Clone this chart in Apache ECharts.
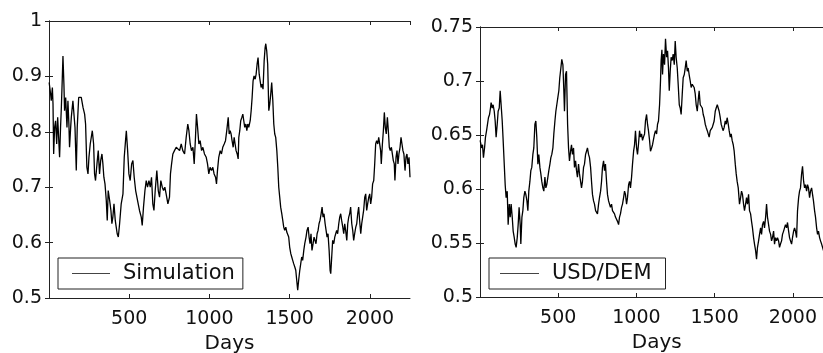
<!DOCTYPE html>
<html>
<head>
<meta charset="utf-8">
<script src="https://cdn.jsdelivr.net/npm/echarts@6/dist/echarts.min.js"></script>
<style>
  html, body { margin: 0; padding: 0; background: #fff; }
  #chart { width: 823px; height: 353px; }
</style>
</head>
<body>
<div id="chart"></div>
<script>
// Simulated series (left panel): day index and value
const simDays = [1,10,14,21,25,29,35,41,48,54,60,66,72,77,83,87,93,97,104,112,118,124,128,135,139,145,149,155,162,170,176,185,191,201,212,222,228,236,243,249,257,270,278,284,290,299,307,315,322,330,336,342,349,357,363,369,378,386,392,398,405,413,419,425,432,440,450,461,469,477,482,490,498,506,515,523,531,540,
  550,556,564,575,581,589,598,606,614,623,631,639,647,654,662,672,681,689,697,706,714,722,730,741,751,757,764,772,782,793,803,814,824,834,845,855,865,872,880,888,897,905,913,919,926,934,942,951,959,969,980,988,996,1004,1013,1021,1029,1038,1044,1050,1058,1067,1075,1083,1092,1100,1108,1117,1123,
  1129,1135,1141,1148,1154,1160,1166,1173,1179,1183,1189,1195,1202,1208,1214,1220,1227,1233,1239,1245,1254,1260,1266,1272,1278,1285,1291,1297,1303,1310,1316,1322,1328,1334,1341,1347,1351,1357,1363,1370,1376,1382,1388,1395,1401,1407,1413,1420,1426,1432,1438,1444,1451,1457,1463,1469,1476,1482,1488,1494,1500,1507,1513,1519,1525,1532,1538,1544,1550,1556,1563,1569,1575,1581,1588,1594,1602,1608,1615,1621,1627,1633,1639,1646,1652,1658,1664,1671,1677,1683,
  1689,1696,1702,1708,1714,1721,1727,1733,1739,1746,1752,1756,1762,1768,1775,1781,1787,1793,1799,1806,1812,1818,1824,1831,1837,1843,1849,1856,1862,1868,1874,1880,1887,1893,1899,1905,1912,1918,1924,1930,1936,1943,1949,1955,1961,1968,1974,1980,1986,1993,1999,2005,2011,2017,2024,2030,2036,2042,2049,2055,2061,2067,2071,2078,2084,2090,2096,2102,2109,2115,2121,2127,2134,2140,2146,2152,2156,2163,2169,2175,2181,2188,2194,2200,2206,2212,2219,2225,2231,2237,2244,2250];
const simValues = [0.889,0.868,0.856,0.880,0.850,0.760,0.808,0.820,0.778,0.826,0.790,0.754,0.808,0.844,0.898,0.937,0.886,0.838,0.862,0.808,0.856,0.814,0.772,0.808,0.826,0.844,0.856,0.859,0.808,0.730,0.808,0.862,0.865,0.862,0.844,0.832,0.814,0.736,0.724,0.754,0.778,0.802,0.778,0.724,0.712,0.742,0.766,0.724,0.748,0.760,0.742,0.718,0.706,0.676,0.640,0.694,0.676,0.658,0.634,0.646,0.670,0.640,0.628,0.616,0.610,0.634,0.670,0.688,0.754,0.784,0.802,0.766,0.724,0.712,0.742,0.748,0.718,0.694,
  0.694,0.670,0.658,0.646,0.631,0.664,0.694,0.712,0.700,0.712,0.700,0.718,0.670,0.658,0.694,0.730,0.694,0.682,0.712,0.700,0.694,0.700,0.688,0.670,0.682,0.724,0.742,0.760,0.766,0.772,0.775,0.766,0.778,0.766,0.760,0.790,0.814,0.802,0.778,0.766,0.772,0.742,0.790,0.832,0.808,0.778,0.784,0.766,0.772,0.760,0.754,0.742,0.724,0.736,0.730,0.736,0.724,0.718,0.706,0.730,0.754,0.766,0.760,0.772,0.778,0.784,0.802,0.826,0.796,
  0.802,0.796,0.784,0.772,0.790,0.778,0.766,0.760,0.751,0.790,0.802,0.820,0.826,0.832,0.820,0.808,0.814,0.802,0.814,0.808,0.820,0.838,0.862,0.892,0.901,0.895,0.904,0.922,0.934,0.904,0.892,0.880,0.886,0.877,0.928,0.952,0.959,0.946,0.922,0.838,0.850,0.868,0.889,0.856,0.814,0.796,0.790,0.766,0.736,0.700,0.682,0.664,0.652,0.640,0.628,0.622,0.628,0.619,0.616,0.610,0.592,0.580,0.574,0.568,0.562,0.556,0.550,0.532,0.514,0.532,0.550,0.562,0.574,0.568,0.586,0.598,0.610,0.622,0.628,0.610,0.598,0.616,0.586,0.598,0.610,0.604,0.598,0.616,0.622,0.634,
  0.640,0.652,0.664,0.646,0.652,0.634,0.622,0.610,0.616,0.586,0.550,0.544,0.574,0.604,0.598,0.610,0.616,0.622,0.616,0.634,0.646,0.652,0.640,0.628,0.616,0.634,0.622,0.604,0.634,0.646,0.652,0.664,0.634,0.622,0.604,0.616,0.628,0.634,0.652,0.664,0.640,0.616,0.634,0.646,0.658,0.682,0.688,0.658,0.670,0.682,0.688,0.670,0.682,0.706,0.712,0.742,0.778,0.784,0.778,0.790,0.790,0.766,0.742,0.778,0.802,0.835,0.808,0.796,0.826,0.802,0.772,0.766,0.772,0.760,0.748,0.742,0.712,0.754,0.766,0.742,0.760,0.772,0.790,0.778,0.766,0.760,0.730,0.754,0.760,0.742,0.754,0.718];

// USD/DEM exchange rate (right panel): day index and rate
const fxDays = [1,10,16,22,29,35,42,48,54,61,67,71,78,84,91,97,103,110,116,123,129,135,142,148,155,161,167,174,180,187,193,199,206,212,219,225,231,238,244,250,257,261,268,274,280,287,293,300,306,312,319,325,331,338,344,351,357,363,370,376,383,389,395,402,408,415,421,427,434,440,447,453,459,466,472,479,485,491,498,504,510,517,523,530,536,540,547,553,
  560,566,572,579,585,591,598,604,611,617,623,630,636,643,649,655,662,668,675,681,687,694,700,707,713,719,726,732,739,745,751,758,764,771,777,783,790,796,802,809,815,822,828,834,841,847,854,860,866,873,879,886,892,898,905,911,918,924,930,937,943,950,956,962,969,975,982,988,994,1001,1007,1013,1020,1026,1033,1039,1045,1052,1058,1065,1071,1077,1084,1090,1097,1103,
  1109,1116,1122,1129,1135,1141,1148,1154,1158,1163,1167,1173,1180,1186,1193,1199,1205,1210,1216,1222,1229,1235,1242,1248,1254,1261,1267,1274,1280,1286,1293,1299,1306,1312,1318,1325,1331,1337,1344,1350,1357,1363,1369,1376,1382,1389,1395,1401,1408,1414,1421,1427,1433,1440,1446,1453,1459,1465,1472,1478,1485,1491,1497,1504,1510,1517,1523,1529,1536,1542,1548,1555,1561,1568,1574,1580,1587,1593,1600,1606,1612,1619,1625,1632,1638,1644,1651,
  1659,1666,1672,1678,1685,1691,1698,1704,1710,1717,1723,1730,1736,1742,1749,1755,1762,1768,1774,1781,1787,1794,1800,1806,1813,1819,1826,1832,1838,1845,1851,1858,1864,1870,1877,1883,1889,1896,1902,1909,1915,1921,1928,1934,1941,1947,1953,1960,1966,1973,1979,1985,1992,1998,2005,2011,2017,2024,2030,2037,2043,2049,2056,2062,2069,2075,2081,2088,2094,2100,2107,2113,2120,2126,2132,2139,2145,2152,2158,2164,2171,2177,2184,2190,2196,2202];
const fxValues = [0.645,0.638,0.641,0.629,0.638,0.648,0.654,0.660,0.666,0.669,0.675,0.680,0.675,0.678,0.672,0.663,0.648,0.660,0.672,0.675,0.691,0.678,0.663,0.645,0.623,0.604,0.592,0.598,0.567,0.586,0.574,0.586,0.574,0.561,0.555,0.549,0.546,0.555,0.567,0.583,0.567,0.549,0.574,0.580,0.592,0.598,0.595,0.589,0.580,0.598,0.607,0.617,0.620,0.632,0.638,0.660,0.663,0.648,0.623,0.632,0.620,0.614,0.607,0.601,0.598,0.611,0.601,0.604,0.611,0.617,0.623,0.629,0.632,0.638,0.651,0.663,0.672,0.678,0.685,0.691,0.703,0.712,0.720,0.715,0.691,0.672,0.706,0.709,
  0.660,0.638,0.626,0.635,0.641,0.632,0.638,0.620,0.626,0.617,0.611,0.623,0.614,0.607,0.601,0.607,0.620,0.623,0.632,0.635,0.638,0.632,0.629,0.620,0.607,0.595,0.589,0.586,0.580,0.580,0.577,0.586,0.592,0.598,0.607,0.620,0.626,0.617,0.623,0.607,0.595,0.589,0.586,0.583,0.586,0.580,0.580,0.577,0.574,0.574,0.570,0.567,0.574,0.577,0.583,0.586,0.592,0.598,0.595,0.586,0.592,0.604,0.607,0.601,0.611,0.623,0.635,0.641,0.654,0.638,0.632,0.641,0.654,0.648,0.651,0.645,0.648,0.651,0.663,0.669,0.660,0.654,0.645,0.635,0.638,0.641,
  0.641,0.651,0.654,0.651,0.660,0.663,0.678,0.700,0.719,0.729,0.706,0.725,0.715,0.739,0.722,0.728,0.712,0.691,0.709,0.722,0.719,0.725,0.715,0.737,0.722,0.712,0.697,0.678,0.675,0.669,0.688,0.703,0.706,0.712,0.719,0.709,0.712,0.706,0.700,0.694,0.697,0.697,0.694,0.688,0.678,0.672,0.682,0.691,0.678,0.678,0.675,0.669,0.666,0.660,0.657,0.654,0.651,0.648,0.654,0.654,0.657,0.660,0.663,0.672,0.675,0.678,0.675,0.672,0.666,0.660,0.657,0.654,0.657,0.663,0.660,0.666,0.660,0.654,0.648,0.651,0.645,0.641,0.635,0.623,0.614,0.607,0.601,
  0.586,0.592,0.598,0.595,0.586,0.580,0.586,0.592,0.586,0.595,0.580,0.577,0.570,0.564,0.555,0.549,0.543,0.535,0.546,0.552,0.558,0.564,0.558,0.567,0.570,0.564,0.574,0.586,0.574,0.567,0.561,0.558,0.552,0.555,0.561,0.549,0.555,0.552,0.555,0.552,0.546,0.549,0.552,0.558,0.561,0.564,0.567,0.564,0.569,0.561,0.555,0.552,0.549,0.555,0.561,0.564,0.561,0.555,0.580,0.592,0.598,0.601,0.614,0.621,0.607,0.601,0.604,0.598,0.604,0.601,0.592,0.598,0.601,0.595,0.589,0.580,0.574,0.564,0.558,0.561,0.555,0.552,0.549,0.546,0.543,0.541];

// Axis ranges and tick spacing
const simX = { min: 0, max: 2250, step: 500 };
const simY = { min: 0.5, max: 1, step: 0.1 };
const fxX = { min: 0, max: 2260, step: 500 };
const fxY = { min: 0.5, max: 0.75, step: 0.05 };
const xTitle = 'Days';
const simName = 'Simulation';
const fxName = 'USD/DEM';

const FONT = 'DejaVu Sans';
const INK = '#222';

function pairs(xs, ys) { return xs.map((d, i) => [d, ys[i]]); }

function bottomAxis(grid, r) {
  return {
    type: 'value', gridIndex: grid, position: 'bottom',
    min: r.min, max: r.max, interval: r.step,
    name: xTitle, nameLocation: 'middle', nameGap: 32,
    nameTextStyle: { fontFamily: FONT, fontSize: 20, color: '#111' },
    axisLine: { show: true, lineStyle: { color: INK, width: 1 } },
    axisTick: { show: true, inside: true, length: 4, lineStyle: { color: INK } },
    axisLabel: { show: true, margin: 12, fontFamily: FONT, fontSize: 19, color: '#111',
      showMinLabel: false, showMaxLabel: false,
      formatter: v => (v % r.step === 0 && v > 0) ? String(v) : '' },
    splitLine: { show: false }
  };
}
function topAxis(grid, r) {
  return {
    type: 'value', gridIndex: grid, position: 'top',
    min: r.min, max: r.max, interval: r.step,
    axisLine: { show: true, lineStyle: { color: INK, width: 1 } },
    axisTick: { show: true, inside: true, length: 4, lineStyle: { color: INK } },
    axisLabel: { show: false }, splitLine: { show: false }
  };
}
function leftAxis(grid, r) {
  return {
    type: 'value', gridIndex: grid, position: 'left',
    min: r.min, max: r.max, interval: r.step,
    axisLine: { show: true, lineStyle: { color: INK, width: 1 } },
    axisTick: { show: true, inside: true, length: 4, lineStyle: { color: INK } },
    axisLabel: { show: true, margin: 7, fontFamily: FONT, fontSize: 19, color: '#111',
      formatter: v => String(+v.toFixed(2)) },
    splitLine: { show: false }
  };
}
function rightAxis(grid, r) {
  return {
    type: 'value', gridIndex: grid, position: 'right',
    min: r.min, max: r.max, interval: r.step,
    axisLine: { show: true, lineStyle: { color: INK, width: 1 } },
    axisTick: { show: true, inside: true, length: 4, lineStyle: { color: INK } },
    axisLabel: { show: false }, splitLine: { show: false }
  };
}
function legendBox(name, left, lineWidth, pad) {
  return {
    data: [name], left: left, top: 258, orient: 'horizontal',
    icon: 'rect', itemWidth: lineWidth, itemHeight: 1, padding: pad,
    itemStyle: { color: '#444', borderWidth: 0 },
    borderColor: INK, borderWidth: 1, backgroundColor: '#fff',
    selectedMode: false,
    textStyle: { fontFamily: FONT, fontSize: 21, color: '#111', padding: [0, 0, 0, 8], lineHeight: 25 }
  };
}

const chart = echarts.init(document.getElementById('chart'), null, { renderer: 'canvas' });
chart.setOption({
  animation: false,
  backgroundColor: '#fff',
  grid: [
    { left: 49, top: 21, width: 361, height: 277, outerBoundsMode: 'none', containLabel: false },
    { left: 480, top: 27, width: 353.5, height: 270, outerBoundsMode: 'none', containLabel: false }
  ],
  xAxis: [bottomAxis(0, simX), topAxis(0, simX), bottomAxis(1, fxX), topAxis(1, fxX)],
  yAxis: [leftAxis(0, simY), rightAxis(0, simY), leftAxis(1, fxY), rightAxis(1, fxY)],
  legend: [
    legendBox(simName, 58, 38, [3, 8, 3, 14]),
    legendBox(fxName, 489, 39, [3, 14, 3, 11])
  ],
  series: [
    { name: simName, type: 'line', xAxisIndex: 0, yAxisIndex: 0,
      data: pairs(simDays, simValues), showSymbol: false, symbol: 'none',
      lineStyle: { color: '#000', width: 1.3 }, itemStyle: { color: '#000' } },
    { name: fxName, type: 'line', xAxisIndex: 2, yAxisIndex: 2,
      data: pairs(fxDays, fxValues), showSymbol: false, symbol: 'none',
      lineStyle: { color: '#000', width: 1.3 }, itemStyle: { color: '#000' } }
  ]
});
</script>
</body>
</html>
